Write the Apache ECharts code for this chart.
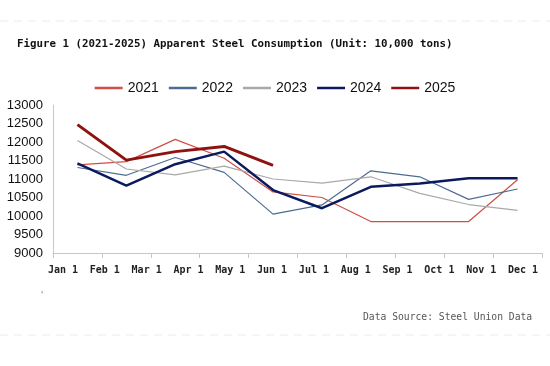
<!DOCTYPE html>
<html><head><meta charset="utf-8">
<script src="https://cdn.jsdelivr.net/npm/echarts@6/dist/echarts.min.js"></script>
<style>html,body{margin:0;padding:0;background:#fff}#c{width:550px;height:366px}</style>
</head><body><div id="c"></div>
<script>
const categories = ['P1','P2','P3','P4','P5','P6','P7','P8','P9','P10'];
const monthLabels = ['Jan 1','Feb 1','Mar 1','Apr 1','May 1','Jun 1','Jul 1','Aug 1','Sep 1','Oct 1','Nov 1','Dec 1'];
const s2021 = [11380, 11470, 12070, 11560, 10650, 10500, 9850, 9850, 9850, 10980];
const s2022 = [11310, 11100, 11580, 11180, 10050, 10300, 11220, 11060, 10450, 10730];
const s2023 = [12040, 11270, 11110, 11350, 11000, 10890, 11060, 10610, 10310, 10150];
const s2024 = [11420, 10820, 11400, 11740, 10700, 10210, 10790, 10880, 11020, 11020];
const s2025 = [12470, 11510, 11740, 11880, 11370];
const yTicks = {min: 9000, max: 13000, interval: 500};

const chart = echarts.init(document.getElementById('c'));
const mk = (name, data, color, width) => ({
  name, type: 'line', data, symbol: 'none', showSymbol: false,
  lineStyle: {color, width}, itemStyle: {color}, xAxisIndex: 0, yAxisIndex: 0
});
chart.setOption({
  animation: false,
  title: {
    text: 'Figure 1 (2021-2025) Apparent Steel Consumption (Unit: 10,000 tons)',
    left: 12, top: 34,
    textStyle: {fontFamily: 'DejaVu Sans Mono', fontSize: 10.8, fontWeight: 'bold', color: '#111'}
  },
  legend: {
    top: 76, left: 'center', itemWidth: 28, itemHeight: 2.5, itemGap: 10, icon: 'rect',
    textStyle: {fontFamily: 'Liberation Sans', fontSize: 14, color: '#111'},
    data: ['2021','2022','2023','2024','2025']
  },
  graphic: [
    {type: 'text', left: 363, top: 312, style: {text: 'Data Source: Steel Union Data', font: '9.7px "DejaVu Sans Mono"', fill: '#555'}},
    {type: 'line', shape: {x1: 0, y1: 21, x2: 550, y2: 21}, style: {stroke: '#ececec', lineWidth: 1, lineDash: [8, 6]}},
    {type: 'line', shape: {x1: 0, y1: 335, x2: 550, y2: 335}, style: {stroke: '#ececec', lineWidth: 1, lineDash: [8, 6]}},
    {type: 'text', left: 41, top: 291, style: {text: '\u02BB', font: '10px "Liberation Sans"', fill: '#777'}}
  ],
  grid: [
    {left: 53, right: 8, top: 105, bottom: 113},
    {left: 63, right: 27, top: 105, bottom: 113}
  ],
  xAxis: [
    {type: 'category', gridIndex: 0, data: categories, boundaryGap: true,
     axisLine: {lineStyle: {color: '#c8c8c8'}},
     axisTick: {show: true, inside: false, length: 5, lineStyle: {color: '#c8c8c8'}},
     axisLabel: {show: false}},
    {type: 'category', gridIndex: 1, data: monthLabels, boundaryGap: false,
     axisLine: {show: false}, axisTick: {show: false},
     axisLabel: {margin: 12, interval: 0, fontFamily: 'DejaVu Sans Mono', fontSize: 10, fontWeight: 'bold', color: '#222'}}
  ],
  yAxis: [
    {type: 'value', gridIndex: 0, min: yTicks.min, max: yTicks.max, interval: yTicks.interval,
     axisLine: {show: true, lineStyle: {color: '#c8c8c8'}}, axisTick: {show: false},
     splitLine: {show: false},
     axisLabel: {margin: 10, fontFamily: 'Liberation Sans', fontSize: 13, color: '#111', formatter: v => String(v)}},
    {type: 'value', gridIndex: 1, show: false, min: yTicks.min, max: yTicks.max}
  ],
  series: [
    mk('2021', s2021, '#cf4f45', 1.2),
    mk('2022', s2022, '#4d6b93', 1.2),
    mk('2023', s2023, '#a9a9a9', 1.2),
    mk('2024', s2024, '#0b1a5e', 2.5),
    mk('2025', s2025, '#8e1212', 3)
  ]
});
</script></body></html>
